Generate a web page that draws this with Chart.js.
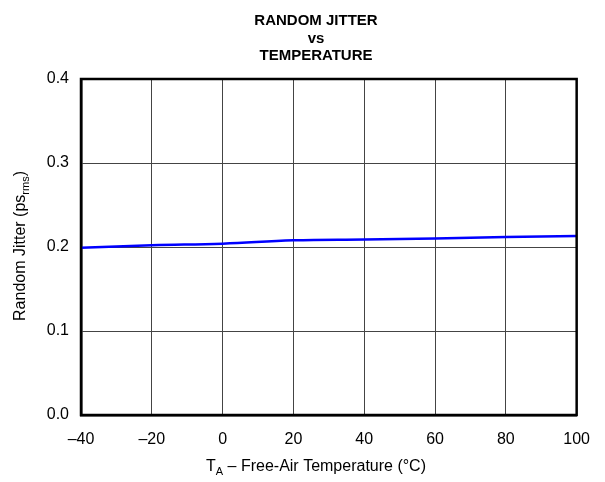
<!DOCTYPE html>
<html>
<head>
<meta charset="utf-8">
<script src="https://cdn.jsdelivr.net/npm/chart.js@4.4.1/dist/chart.umd.min.js"></script>
<style>
  html, body { margin: 0; padding: 0; background: #fff; }
  #wrap { width: 605px; height: 482px; }
</style>
</head>
<body>
<div id="wrap"><canvas id="jitterChart"></canvas></div>
<script>
const temperatures = [-40, -20, 0, 20, 40, 60, 80, 100];
const jitterValues = [0.199, 0.202, 0.204, 0.208, 0.209, 0.21, 0.212, 0.213];
const titleLines = ["RANDOM JITTER", "vs", "TEMPERATURE"];

const FONT = "'Liberation Sans', Arial, sans-serif";

// Title, frame and axis titles (with subscripts) drawn as canvas text
const textPlugin = {
  id: "textPlugin",
  afterDraw(chart) {
    const ctx = chart.ctx;
    const area = chart.chartArea;
    ctx.save();

    // black frame round the plot
    ctx.strokeStyle = "#000";
    ctx.lineWidth = 2.5;
    ctx.strokeRect(area.left, area.top, area.right - area.left, area.bottom - area.top);

    ctx.fillStyle = "#000";
    ctx.textBaseline = "middle";
    ctx.textAlign = "center";

    ctx.font = `bold 15px ${FONT}`;
    titleLines.forEach((line, i) => {
      ctx.fillText(line, 316, 21 + i * 17.5);
    });

    // x-axis title: T_A – Free-Air Temperature (°C)
    const big = `16px ${FONT}`;
    const small = `11px ${FONT}`;
    ctx.textAlign = "left";
    const parts = [
      { t: "T", f: big, dy: 0 },
      { t: "A", f: small, dy: 5 },
      { t: " – Free-Air Temperature (°C)", f: big, dy: 0 },
    ];
    let total = 0;
    parts.forEach((p) => {
      ctx.font = p.f;
      total += ctx.measureText(p.t).width;
    });
    let x = 316 - total / 2;
    parts.forEach((p) => {
      ctx.font = p.f;
      ctx.fillText(p.t, x, 467 + p.dy);
      x += ctx.measureText(p.t).width;
    });

    // y-axis title: Random Jitter (ps_rms)
    ctx.translate(21, 246);
    ctx.rotate(-Math.PI / 2);
    const yParts = [
      { t: "Random Jitter (ps", f: big, dy: 0 },
      { t: "rms", f: small, dy: 5 },
      { t: ")", f: big, dy: 0 },
    ];
    total = 0;
    yParts.forEach((p) => {
      ctx.font = p.f;
      total += ctx.measureText(p.t).width;
    });
    x = -total / 2;
    yParts.forEach((p) => {
      ctx.font = p.f;
      ctx.fillText(p.t, x, p.dy);
      x += ctx.measureText(p.t).width;
    });
    ctx.restore();
  },
};

new Chart(document.getElementById("jitterChart"), {
  type: "line",
  data: {
    datasets: [
      {
        data: temperatures.map((t, i) => ({ x: t, y: jitterValues[i] })),
        borderColor: "#0000ff",
        borderWidth: 2.5,
        pointRadius: 0,
        tension: 0.4,
        fill: false,
      },
    ],
  },
  options: {
    responsive: true,
    maintainAspectRatio: false,
    animation: false,
    layout: { padding: { top: 79, right: 28, left: 0, bottom: 0 } },
    plugins: {
      legend: { display: false },
      tooltip: { enabled: false },
      title: { display: false },
    },
    scales: {
      x: {
        type: "linear",
        min: -40,
        max: 100,
        afterFit: (scale) => { scale.height = 67; },
        ticks: {
          stepSize: 20,
          color: "#000",
          font: { family: FONT, size: 16 },
          padding: 15,
          maxRotation: 0,
          callback: (v) => String(v).replace("-", "–"),
        },
        grid: { color: "#444", lineWidth: 1, drawTicks: false },
        border: { color: "#000", width: 2.5 },
      },
      y: {
        min: 0,
        max: 0.4,
        afterFit: (scale) => { scale.width = 81; },
        ticks: {
          stepSize: 0.1,
          color: "#000",
          font: { family: FONT, size: 16 },
          padding: 12,
          callback: (v) => v.toFixed(1),
        },
        grid: { color: "#444", lineWidth: 1, drawTicks: false },
        border: { color: "#000", width: 2.5 },
      },
    },
  },
  plugins: [textPlugin],
});
</script>
</body>
</html>
